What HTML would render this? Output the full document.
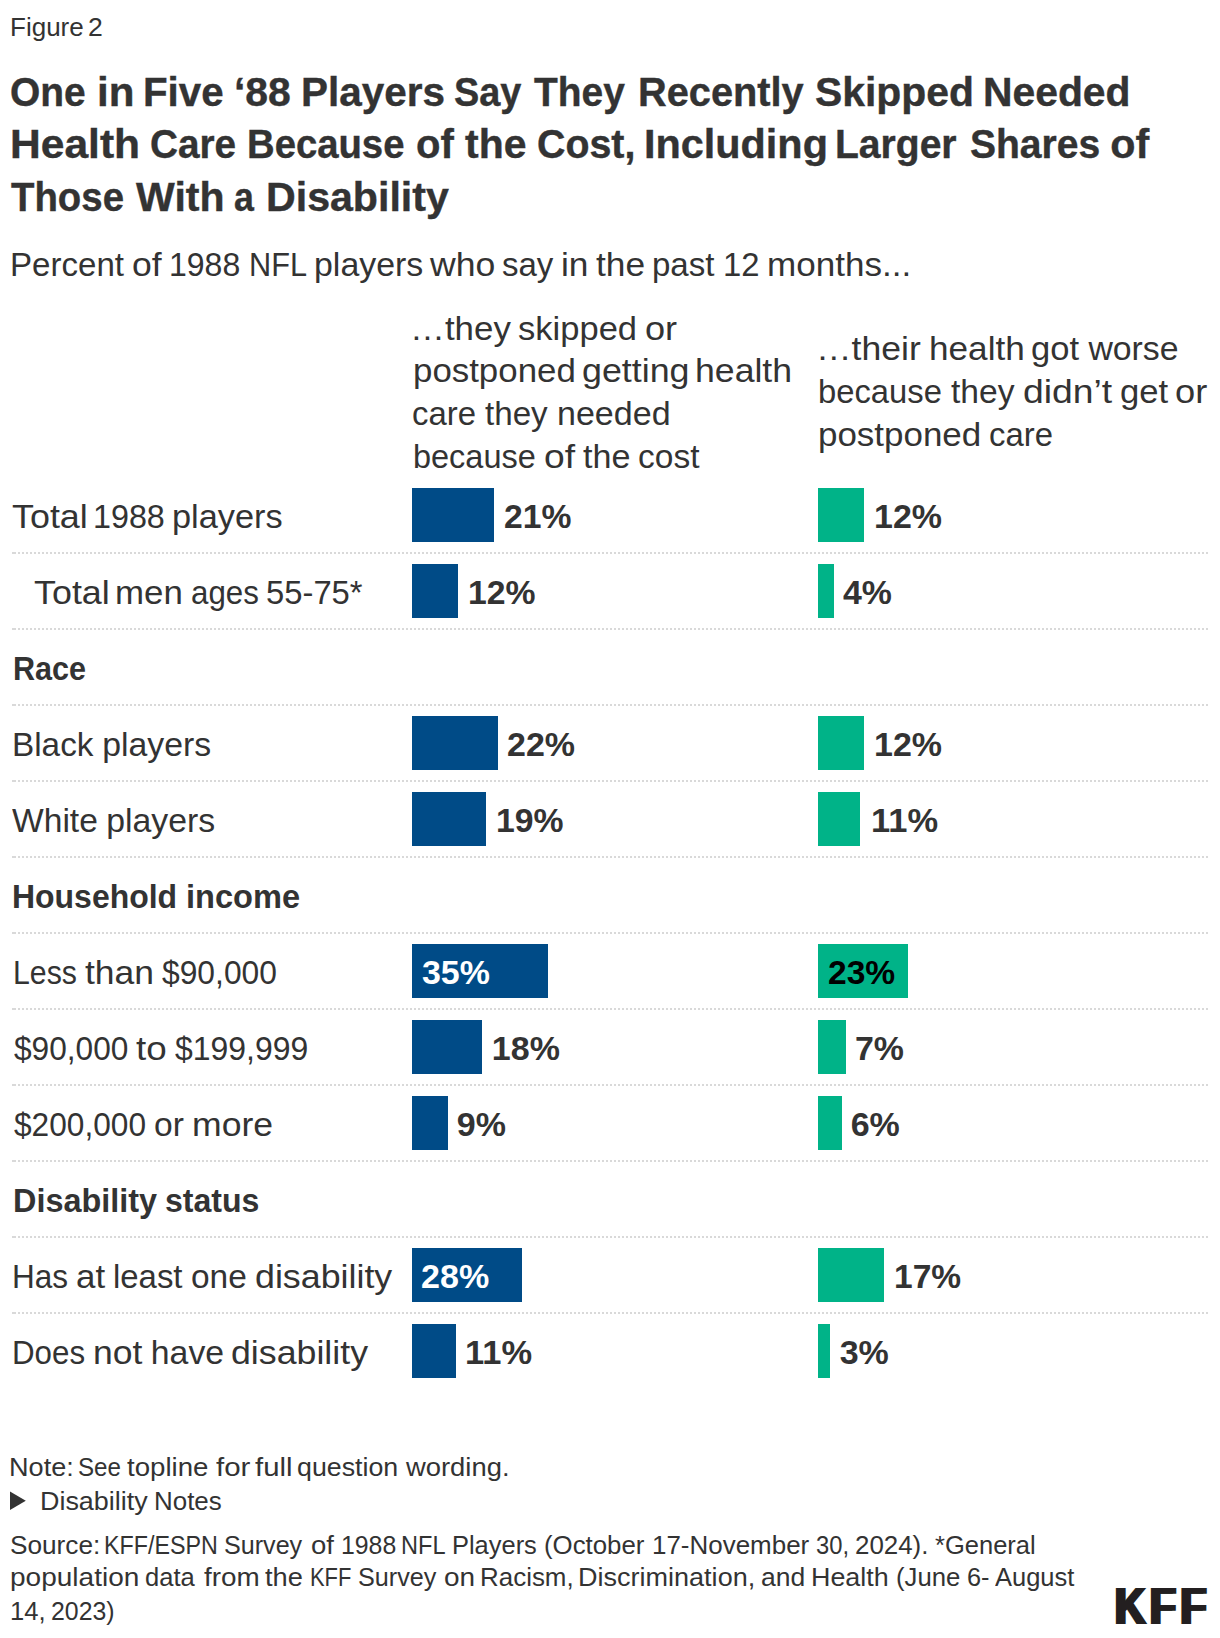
<!DOCTYPE html>
<html lang="en">
<head>
<meta charset="utf-8">
<title>Figure 2</title>
<style>
html,body{margin:0;padding:0;background:#fff;}
body{width:1220px;height:1638px;position:relative;overflow:hidden;font-family:"Liberation Sans",sans-serif;color:#333;}
.t{position:absolute;left:0;width:1220px;white-space:pre;margin:0;}
.t span{position:absolute;top:0;transform-origin:0 0;}
.b{font-weight:700;}
.h{-webkit-text-stroke:0.4px #333;}
.bar{position:absolute;height:54px;}
.bl{background:#004b87;left:412px;}
.gr{background:#00b388;left:818px;}
.ln{position:absolute;left:12px;width:1196px;height:2px;background:linear-gradient(to right,#d9d9d9 0 2px,transparent 2px) no-repeat,repeating-linear-gradient(to right,transparent 0 2px,#d9d9d9 2px 4px);}
.tri{position:absolute;left:0;top:1485px;}
.logo{position:absolute;left:1113.2px;top:1575.7px;font-size:52.0px;line-height:60px;font-weight:700;color:#231f20;letter-spacing:4.8px;transform:scaleX(0.829);transform-origin:0 0;text-shadow:4.19px 0 0 #231f20;white-space:pre;}
</style>
</head>
<body>
<div class="ln" style="top:552px"></div>
<div class="ln" style="top:628px"></div>
<div class="ln" style="top:704px"></div>
<div class="ln" style="top:780px"></div>
<div class="ln" style="top:856px"></div>
<div class="ln" style="top:932px"></div>
<div class="ln" style="top:1008px"></div>
<div class="ln" style="top:1084px"></div>
<div class="ln" style="top:1160px"></div>
<div class="ln" style="top:1236px"></div>
<div class="ln" style="top:1312px"></div>
<div class="bar bl" style="top:488px;width:82px"></div>
<div class="bar bl" style="top:564px;width:46px"></div>
<div class="bar bl" style="top:716px;width:86px"></div>
<div class="bar bl" style="top:792px;width:74px"></div>
<div class="bar bl" style="top:944px;width:136px"></div>
<div class="bar bl" style="top:1020px;width:70px"></div>
<div class="bar bl" style="top:1096px;width:36px"></div>
<div class="bar bl" style="top:1248px;width:110px"></div>
<div class="bar bl" style="top:1324px;width:44px"></div>
<div class="bar gr" style="top:488px;width:46px"></div>
<div class="bar gr" style="top:564px;width:16px"></div>
<div class="bar gr" style="top:716px;width:46px"></div>
<div class="bar gr" style="top:792px;width:42px"></div>
<div class="bar gr" style="top:944px;width:90px"></div>
<div class="bar gr" style="top:1020px;width:28px"></div>
<div class="bar gr" style="top:1096px;width:24px"></div>
<div class="bar gr" style="top:1248px;width:66px"></div>
<div class="bar gr" style="top:1324px;width:12px"></div>
<div class="t" style="top:11px;font-size:26.1px;line-height:32px;"><span style="left:9.85px;transform:scaleX(0.9966);">Figure</span> <span style="left:88.45px;transform:scaleX(1.019);">2</span></div>
<div class="t b h" style="top:67px;font-size:41.3px;line-height:50px;"><span style="left:9.78px;transform:scaleX(0.9425);">One</span> <span style="left:96.85px;transform:scaleX(1.0197);">in</span> <span style="left:142.5px;transform:scaleX(0.9757);">Five</span> <span style="left:234.13px;transform:scaleX(0.99);">‘88</span> <span style="left:301.39px;transform:scaleX(0.9799);">Players</span> <span style="left:454.03px;transform:scaleX(0.9164);">Say</span> <span style="left:533.95px;transform:scaleX(0.9424);">They</span> <span style="left:637.64px;transform:scaleX(0.9626);">Recently</span> <span style="left:815.31px;transform:scaleX(0.9888);">Skipped</span> <span style="left:983.17px;transform:scaleX(0.9889);">Needed</span></div>
<div class="t b h" style="top:119px;font-size:41.3px;line-height:50px;"><span style="left:9.65px;transform:scaleX(1.0307);">Health</span> <span style="left:149.61px;transform:scaleX(0.9371);">Care</span> <span style="left:246.84px;transform:scaleX(0.9267);">Because</span> <span style="left:415.92px;transform:scaleX(0.9693);">of</span> <span style="left:464.99px;transform:scaleX(0.9916);">the</span> <span style="left:536.88px;transform:scaleX(0.9528);">Cost,</span> <span style="left:643.53px;transform:scaleX(1.0022);">Including</span> <span style="left:835.38px;transform:scaleX(0.9459);">Larger</span> <span style="left:969.98px;transform:scaleX(0.9451);">Shares</span> <span style="left:1110.37px;">of</span></div>
<div class="t b h" style="top:172px;font-size:41.3px;line-height:50px;"><span style="left:10.96px;transform:scaleX(0.9291);">Those</span> <span style="left:135.9px;transform:scaleX(0.994);">With</span> <span style="left:233.99px;transform:scaleX(0.8653);">a</span> <span style="left:266.05px;transform:scaleX(0.9959);">Disability</span></div>
<div class="t" style="top:244px;font-size:33.8px;line-height:41px;"><span style="left:10.09px;transform:scaleX(0.979);">Percent</span> <span style="left:131.63px;transform:scaleX(1.0527);">of</span> <span style="left:169.35px;transform:scaleX(0.947);">1988</span> <span style="left:248.79px;transform:scaleX(0.9083);">NFL</span> <span style="left:314.06px;transform:scaleX(1.003);">players</span> <span style="left:430.29px;transform:scaleX(1.0539);">who</span> <span style="left:501.94px;transform:scaleX(0.9765);">say</span> <span style="left:560.71px;transform:scaleX(1.0453);">in</span> <span style="left:595.75px;transform:scaleX(1.0457);">the</span> <span style="left:652.42px;transform:scaleX(0.9773);">past</span> <span style="left:723.39px;transform:scaleX(0.9717);">12</span> <span style="left:766.82px;transform:scaleX(1.0369);">months...</span></div>
<div class="t" style="top:308px;font-size:33.8px;line-height:41px;"><span style="left:410.35px;transform:scaleX(1.0325);">…they</span> <span style="left:518.38px;transform:scaleX(1.0219);">skipped</span> <span style="left:644.7px;transform:scaleX(1.0703);">or</span></div>
<div class="t" style="top:350px;font-size:33.8px;line-height:41px;"><span style="left:412.6px;transform:scaleX(1.0312);">postponed</span> <span style="left:582.03px;transform:scaleX(1.0597);">getting</span> <span style="left:695.31px;transform:scaleX(1.0542);">health</span></div>
<div class="t" style="top:393px;font-size:33.8px;line-height:41px;"><span style="left:412.04px;transform:scaleX(0.9741);">care</span> <span style="left:485.48px;transform:scaleX(0.981);">they</span> <span style="left:556.69px;transform:scaleX(1.0069);">needed</span></div>
<div class="t" style="top:436px;font-size:33.8px;line-height:41px;"><span style="left:412.95px;transform:scaleX(0.9605);">because</span> <span style="left:543.85px;transform:scaleX(1.1014);">of</span> <span style="left:582.67px;transform:scaleX(1.0101);">the</span> <span style="left:637.91px;transform:scaleX(0.9913);">cost</span></div>
<div class="t" style="top:328px;font-size:33.8px;line-height:41px;"><span style="left:815.76px;transform:scaleX(1.0528);">…their</span> <span style="left:928.94px;transform:scaleX(1.0404);">health</span> <span style="left:1031.29px;transform:scaleX(1.0211);">got</span> <span style="left:1088.39px;">worse</span></div>
<div class="t" style="top:371px;font-size:33.8px;line-height:41px;"><span style="left:818.43px;transform:scaleX(0.9702);">because</span> <span style="left:950.68px;transform:scaleX(0.9953);">they</span> <span style="left:1022.96px;transform:scaleX(1.1043);">didn’t</span> <span style="left:1119.88px;transform:scaleX(1.0255);">get</span> <span style="left:1175px;transform:scaleX(1.0738);">or</span></div>
<div class="t" style="top:414px;font-size:33.8px;line-height:41px;"><span style="left:818.19px;transform:scaleX(1.0338);">postponed</span> <span style="left:988.54px;transform:scaleX(0.9725);">care</span></div>
<div class="t" style="top:496px;font-size:33.8px;line-height:41px;"><span style="left:12.39px;transform:scaleX(1.0616);">Total</span> <span style="left:93.43px;transform:scaleX(0.9554);">1988</span> <span style="left:171.73px;transform:scaleX(1.0154);">players</span></div>
<div class="t" style="top:572px;font-size:33.8px;line-height:41px;"><span style="left:33.99px;transform:scaleX(1.0616);">Total</span> <span style="left:115.43px;transform:scaleX(1.0313);">men</span> <span style="left:190.6px;transform:scaleX(0.9261);">ages</span> <span style="left:265.73px;transform:scaleX(0.9701);">55-75*</span></div>
<div class="t b" style="top:649px;font-size:32.6px;line-height:40px;"><span style="left:12.69px;transform:scaleX(0.9383);">Race</span></div>
<div class="t" style="top:724px;font-size:33.8px;line-height:41px;"><span style="left:12.28px;transform:scaleX(0.9856);">Black</span> <span style="left:102.27px;">players</span></div>
<div class="t" style="top:800px;font-size:33.8px;line-height:41px;"><span style="left:12.48px;transform:scaleX(0.9943);">White</span> <span style="left:106.27px;">players</span></div>
<div class="t b" style="top:876px;font-size:33.5px;line-height:41px;"><span style="left:12.35px;transform:scaleX(0.954);">Household</span> <span style="left:186px;transform:scaleX(0.9729);">income</span></div>
<div class="t" style="top:952px;font-size:33.8px;line-height:41px;"><span style="left:12.53px;transform:scaleX(0.8952);">Less</span> <span style="left:85.25px;transform:scaleX(1.0499);">than</span> <span style="left:162.48px;transform:scaleX(0.9407);">$90,000</span></div>
<div class="t" style="top:1028px;font-size:33.8px;line-height:41px;"><span style="left:13.79px;transform:scaleX(0.9365);">$90,000</span> <span style="left:135.63px;transform:scaleX(1.089);">to</span> <span style="left:175.28px;transform:scaleX(0.9448);">$199,999</span></div>
<div class="t" style="top:1104px;font-size:33.8px;line-height:41px;"><span style="left:13.79px;transform:scaleX(0.9365);">$200,000</span> <span style="left:153.51px;transform:scaleX(0.9951);">or</span> <span style="left:191.58px;transform:scaleX(1.0523);">more</span></div>
<div class="t b" style="top:1180px;font-size:33.5px;line-height:41px;"><span style="left:12.57px;transform:scaleX(0.9665);">Disability</span> <span style="left:164.57px;transform:scaleX(0.957);">status</span></div>
<div class="t" style="top:1256px;font-size:33.8px;line-height:41px;"><span style="left:12.42px;transform:scaleX(0.9324);">Has</span> <span style="left:76.24px;transform:scaleX(1.0318);">at</span> <span style="left:112.76px;transform:scaleX(0.9733);">least</span> <span style="left:191.32px;transform:scaleX(0.9903);">one</span> <span style="left:255.03px;transform:scaleX(1.0586);">disability</span></div>
<div class="t" style="top:1332px;font-size:33.8px;line-height:41px;"><span style="left:12.44px;transform:scaleX(0.9259);">Does</span> <span style="left:93.18px;transform:scaleX(1.0512);">not</span> <span style="left:150.84px;">have</span> <span style="left:231.23px;transform:scaleX(1.0571);">disability</span></div>
<div class="t b" style="top:496px;font-size:34px;line-height:41px;"><span style="left:503.92px;transform:scaleX(0.9915);">21%</span></div>
<div class="t b" style="top:572px;font-size:34px;line-height:41px;"><span style="left:468.46px;transform:scaleX(0.9924);">12%</span></div>
<div class="t b" style="top:724px;font-size:34px;line-height:41px;"><span style="left:507.01px;">22%</span></div>
<div class="t b" style="top:800px;font-size:34px;line-height:41px;"><span style="left:495.76px;transform:scaleX(0.9924);">19%</span></div>
<div class="t b" style="top:952px;font-size:34px;line-height:41px;color:#ffffff;"><span style="left:421.58px;transform:scaleX(0.998);">35%</span></div>
<div class="t b" style="top:1028px;font-size:34px;line-height:41px;"><span style="left:491.84px;">18%</span></div>
<div class="t b" style="top:1104px;font-size:34px;line-height:41px;"><span style="left:456.75px;">9%</span></div>
<div class="t b" style="top:1256px;font-size:34px;line-height:41px;color:#ffffff;"><span style="left:421.31px;transform:scaleX(1.0021);">28%</span></div>
<div class="t b" style="top:1332px;font-size:34px;line-height:41px;"><span style="left:464.81px;transform:scaleX(1.0137);">11%</span></div>
<div class="t b" style="top:496px;font-size:34px;line-height:41px;"><span style="left:874.04px;">12%</span></div>
<div class="t b" style="top:572px;font-size:34px;line-height:41px;"><span style="left:843.48px;transform:scaleX(0.9964);">4%</span></div>
<div class="t b" style="top:724px;font-size:34px;line-height:41px;"><span style="left:874.04px;">12%</span></div>
<div class="t b" style="top:800px;font-size:34px;line-height:41px;"><span style="left:870.81px;transform:scaleX(1.0137);">11%</span></div>
<div class="t b" style="top:952px;font-size:34px;line-height:41px;color:#000000;"><span style="left:827.82px;transform:scaleX(0.987);">23%</span></div>
<div class="t b" style="top:1028px;font-size:34px;line-height:41px;"><span style="left:854.83px;transform:scaleX(0.9974);">7%</span></div>
<div class="t b" style="top:1104px;font-size:34px;line-height:41px;"><span style="left:850.71px;">6%</span></div>
<div class="t b" style="top:1256px;font-size:34px;line-height:41px;"><span style="left:894.37px;transform:scaleX(0.9863);">17%</span></div>
<div class="t b" style="top:1332px;font-size:34px;line-height:41px;"><span style="left:839.68px;">3%</span></div>
<div class="t" style="top:1451px;font-size:26.1px;line-height:32px;"><span style="left:9.46px;transform:scaleX(1.0385);">Note:</span> <span style="left:78.42px;transform:scaleX(0.9262);">See</span> <span style="left:127.47px;transform:scaleX(1.0597);">topline</span> <span style="left:216.06px;transform:scaleX(1.1313);">for</span> <span style="left:255.16px;transform:scaleX(1.1238);">full</span> <span style="left:297.22px;transform:scaleX(1.026);">question</span> <span style="left:406.39px;transform:scaleX(1.0494);">wording.</span></div>
<div class="t" style="top:1485px;font-size:26.1px;line-height:32px;"><span style="left:39.77px;transform:scaleX(1.0312);">Disability</span> <span style="left:154.45px;transform:scaleX(0.9936);">Notes</span></div>
<div class="t" style="top:1529px;font-size:26.1px;line-height:32px;"><span style="left:9.6px;transform:scaleX(1.0035);">Source:</span> <span style="left:104.17px;transform:scaleX(0.8913);">KFF/ESPN</span> <span style="left:224.36px;transform:scaleX(0.9625);">Survey</span> <span style="left:310.76px;transform:scaleX(1.054);">of</span> <span style="left:340.5px;transform:scaleX(0.9507);">1988</span> <span style="left:401.35px;transform:scaleX(0.9021);">NFL</span> <span style="left:451.99px;transform:scaleX(0.9748);">Players</span> <span style="left:543.67px;transform:scaleX(0.9894);">(October</span> <span style="left:651.51px;transform:scaleX(0.9946);">17-November</span> <span style="left:816.11px;transform:scaleX(0.9116);">30,</span> <span style="left:855.28px;transform:scaleX(0.992);">2024).</span> <span style="left:934.99px;transform:scaleX(0.9775);">*General</span></div>
<div class="t" style="top:1561px;font-size:26.1px;line-height:32px;"><span style="left:10.25px;transform:scaleX(1.0737);">population</span> <span style="left:145.27px;transform:scaleX(0.9782);">data</span> <span style="left:203.89px;transform:scaleX(1.0675);">from</span> <span style="left:265.28px;transform:scaleX(1.0441);">the</span> <span style="left:309.89px;transform:scaleX(0.8395);">KFF</span> <span style="left:357.76px;transform:scaleX(0.965);">Survey</span> <span style="left:443.74px;transform:scaleX(1.0713);">on</span> <span style="left:479.95px;transform:scaleX(0.9941);">Racism,</span> <span style="left:577.86px;transform:scaleX(1.0356);">Discrimination,</span> <span style="left:761.27px;transform:scaleX(1.0158);">and</span> <span style="left:811.37px;transform:scaleX(1.0303);">Health</span> <span style="left:895.77px;transform:scaleX(0.9868);">(June</span> <span style="left:966.77px;transform:scaleX(0.9694);">6-</span> <span style="left:994.84px;transform:scaleX(0.9766);">August</span></div>
<div class="t" style="top:1595px;font-size:26.1px;line-height:32px;"><span style="left:9.74px;transform:scaleX(0.9815);">14,</span> <span style="left:51.03px;transform:scaleX(0.9526);">2023)</span></div>
<svg class="tri" width="40" height="32" viewBox="0 0 40 32"><polygon points="10,6.4 25.8,15.75 10,25.1" fill="#333"/></svg>
<div class="logo">KFF</div>
</body>
</html>
